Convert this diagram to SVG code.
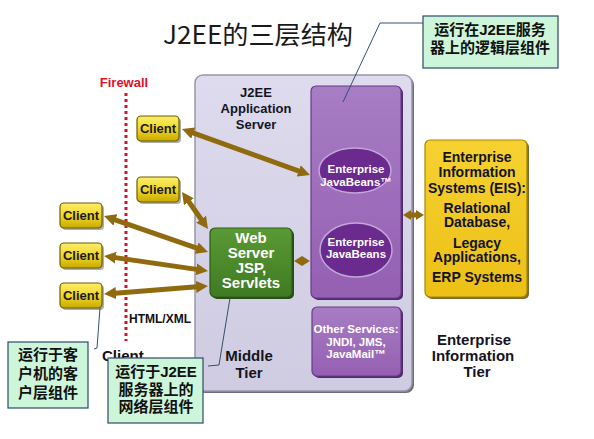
<svg xmlns="http://www.w3.org/2000/svg" width="594" height="439" viewBox="0 0 594 439">
<defs>
  <linearGradient id="gClient" x1="0" y1="0" x2="0" y2="1">
    <stop offset="0" stop-color="#fbee6a"/>
    <stop offset="0.5" stop-color="#efd82a"/>
    <stop offset="1" stop-color="#c9a900"/>
  </linearGradient>
  <linearGradient id="gServer" x1="0" y1="0" x2="0" y2="1">
    <stop offset="0" stop-color="#dedbee"/>
    <stop offset="1" stop-color="#cfcbe1"/>
  </linearGradient>
  <linearGradient id="gPurple" x1="0" y1="0" x2="0" y2="1">
    <stop offset="0" stop-color="#a77dc4"/>
    <stop offset="1" stop-color="#955fb2"/>
  </linearGradient>
  <linearGradient id="gGreen" x1="0" y1="0" x2="0" y2="1">
    <stop offset="0" stop-color="#5a9a34"/>
    <stop offset="1" stop-color="#3f7a22"/>
  </linearGradient>
  <linearGradient id="gEIS" x1="0" y1="0" x2="0" y2="1">
    <stop offset="0" stop-color="#f6d130"/>
    <stop offset="1" stop-color="#ecc016"/>
  </linearGradient>
  <marker id="ah" viewBox="0 0 12 12" refX="4" refY="6" markerWidth="12" markerHeight="12" markerUnits="userSpaceOnUse" orient="auto-start-reverse">
    <path d="M0,0 L12,6 L0,12 z" fill="#8f6a0e"/>
  </marker>
  <marker id="ahs" viewBox="0 0 8 10" refX="2" refY="5" markerWidth="8" markerHeight="10" markerUnits="userSpaceOnUse" orient="auto-start-reverse">
    <path d="M0,0 L8,5 L0,10 z" fill="#8f6a0e"/>
  </marker>
</defs>
<style>
  .sans { font-family: "Liberation Sans", Arial, sans-serif; }
  .cjk { font-family: "Liberation Sans", "Noto Sans CJK SC", sans-serif; font-weight: bold; font-size: 15px; fill: #111; text-anchor: middle; }
  .client rect.box { fill: url(#gClient); stroke: #6e5c00; stroke-width: 1.2; }
  .client rect.sh { fill: #6a6a6a; opacity: 0.55; }
  .client text { font-family: "Liberation Sans", Arial, sans-serif; font-weight: bold; font-size: 13px; fill: #1a1a10; text-anchor: middle; }
  .arrow { stroke: #8f6a0e; stroke-width: 5; fill: none; marker-start: url(#ah); marker-end: url(#ah); }
  .arrow.small { marker-start: url(#ahs); marker-end: url(#ahs); }
  .callout rect { fill: #cdf5d9; stroke: #2e4a66; stroke-width: 1.2; }
  .leader { stroke: #34506e; stroke-width: 1; fill: none; }
  .wt { font-family: "Liberation Sans", Arial, sans-serif; font-weight: bold; fill: #ffffff; text-anchor: middle; }
  .bt { font-family: "Liberation Sans", Arial, sans-serif; font-weight: bold; fill: #141420; text-anchor: middle; }
</style>
<rect width="594" height="439" fill="#ffffff"/>

<text x="163" y="44" font-family="'Noto Sans CJK SC', sans-serif" font-size="25" fill="#1a1a1a" textLength="190" lengthAdjust="spacingAndGlyphs">J2EE的三层结构</text>

<g id="firewall">
  <text x="124" y="87" class="sans" font-weight="bold" font-size="13" fill="#e0102a" text-anchor="middle">Firewall</text>
  <line x1="126" y1="93" x2="126" y2="341" stroke="#d8102a" stroke-width="3" stroke-dasharray="3,3"/>
  <text x="129" y="323" class="sans" font-weight="bold" font-size="12" fill="#111">HTML/XML</text>
</g>

<g id="app-server">
  <rect x="197" y="77" width="217" height="316" rx="8" fill="#6e6c7c"/>
  <rect x="195" y="75" width="217" height="316" rx="8" fill="url(#gServer)" stroke="#9896a8" stroke-width="1.5"/>
  <text class="bt" font-size="13"><tspan x="256" y="97">J2EE</tspan><tspan x="256" y="113">Application</tspan><tspan x="256" y="129">Server</tspan></text>
  <text class="bt" font-size="15"><tspan x="249" y="361">Middle</tspan><tspan x="249" y="378">Tier</tspan></text>
</g>

<g id="ejb-container">
  <rect x="313" y="88" width="90" height="212" rx="5" fill="#4e2a66"/>
  <rect x="311" y="86" width="90" height="212" rx="5" fill="url(#gPurple)" stroke="#6a3a8a" stroke-width="1.2"/>
</g>

<g id="ejb1">
  <ellipse cx="355" cy="170.5" rx="36" ry="22.5" fill="#6a2a8e" stroke="#c4a6dc" stroke-width="1.5"/>
  <text class="wt" font-size="11.5"><tspan x="356" y="173">Enterprise</tspan><tspan x="356" y="186">JavaBeans™</tspan></text>
</g>

<g id="ejb2">
  <ellipse cx="356" cy="250" rx="36" ry="27" fill="#6a2a8e" stroke="#c4a6dc" stroke-width="1.5"/>
  <text class="wt" font-size="11.5"><tspan x="356" y="246">Enterprise</tspan><tspan x="356" y="258">JavaBeans</tspan></text>
</g>

<g id="other-services">
  <rect x="314" y="309" width="89" height="69" rx="5" fill="#4e2a66"/>
  <rect x="312" y="307" width="89" height="69" rx="5" fill="url(#gPurple)" stroke="#6a3a8a" stroke-width="1.2"/>
  <text class="wt" font-size="11.5" fill="#f0e8f8"><tspan x="356" y="333">Other Services:</tspan><tspan x="356" y="346">JNDI, JMS,</tspan><tspan x="356" y="358">JavaMail™</tspan></text>
</g>

<g id="web-server">
  <rect x="212" y="230" width="82" height="69" rx="5" fill="#2a4a1a"/>
  <rect x="210" y="228" width="82" height="69" rx="5" fill="url(#gGreen)" stroke="#2c5c18" stroke-width="1.2"/>
  <text class="wt" font-size="15"><tspan x="251" y="243">Web</tspan><tspan x="251" y="258">Server</tspan><tspan x="251" y="273">JSP,</tspan><tspan x="251" y="288">Servlets</tspan></text>
</g>

<g id="eis">
  <rect x="427" y="142" width="102" height="157" rx="5" fill="#7a6a30"/>
  <rect x="425" y="140" width="102" height="157" rx="5" fill="url(#gEIS)" stroke="#a68800" stroke-width="1.2"/>
  <text class="bt" font-size="14" fill="#141008"><tspan x="477" y="162">Enterprise</tspan><tspan x="477" y="177">Information</tspan><tspan x="477" y="193">Systems (EIS):</tspan><tspan x="477" y="213">Relational</tspan><tspan x="477" y="227">Database,</tspan><tspan x="477" y="248">Legacy</tspan><tspan x="477" y="262">Applications,</tspan><tspan x="477" y="282">ERP Systems</tspan></text>
</g>

<g id="eis-tier">
  <text class="bt" font-size="15" fill="#111"><tspan x="474" y="345">Enterprise</tspan><tspan x="473" y="361">Information</tspan><tspan x="477" y="377">Tier</tspan></text>
</g>

<g id="client1" class="client"><rect class="sh" x="139" y="118" width="42" height="25" rx="4"/><rect class="box" x="137" y="116" width="42" height="25" rx="4"/><text x="158" y="133">Client</text></g>
<g id="client2" class="client"><rect class="sh" x="139" y="179" width="42" height="25" rx="4"/><rect class="box" x="137" y="177" width="42" height="25" rx="4"/><text x="158" y="194">Client</text></g>
<g id="client3" class="client"><rect class="sh" x="62" y="205" width="42" height="25" rx="4"/><rect class="box" x="60" y="203" width="42" height="25" rx="4"/><text x="81" y="220">Client</text></g>
<g id="client4" class="client"><rect class="sh" x="62" y="245" width="42" height="25" rx="4"/><rect class="box" x="60" y="243" width="42" height="25" rx="4"/><text x="81" y="260">Client</text></g>
<g id="client5" class="client"><rect class="sh" x="62" y="285" width="42" height="25" rx="4"/><rect class="box" x="60" y="283" width="42" height="25" rx="4"/><text x="81" y="300">Client</text></g>

<g id="client-tier">
  <text x="102" y="361" class="sans" font-weight="bold" font-size="15" fill="#111">Client</text>
</g>

<g id="connectors">
  <line class="arrow" x1="189.5" y1="131.7" x2="302.5" y2="172.3"/>
  <line class="arrow" x1="186.6" y1="198.5" x2="203.4" y2="222.5"/>
  <line class="arrow" x1="111.6" y1="218.6" x2="200.4" y2="249.4"/>
  <line class="arrow" x1="111.9" y1="257.1" x2="200.1" y2="269.9"/>
  <line class="arrow" x1="112" y1="293.4" x2="200" y2="286.6"/>
  <line class="arrow small" x1="300" y1="261" x2="304" y2="261"/>
  <line class="arrow small" x1="409" y1="215" x2="418" y2="215"/>
  <polyline class="leader" points="423,23 380,23 343,102"/>
  <polyline class="leader" points="100,308 97,348 94,349"/>
  <polyline class="leader" points="230,298 219,365 208,366"/>
</g>

<g id="callout-logic" class="callout">
  <rect x="423" y="16" width="135" height="52"/>
  <text class="cjk"><tspan x="490" y="35">运行在J2EE服务</tspan><tspan x="490" y="53">器上的逻辑层组件</tspan></text>
</g>

<g id="callout-client" class="callout">
  <rect x="8" y="342" width="80" height="66"/>
  <text class="cjk"><tspan x="48" y="360">运行于客</tspan><tspan x="48" y="379">户机的客</tspan><tspan x="48" y="398">户层组件</tspan></text>
</g>

<g id="callout-web" class="callout">
  <rect x="108" y="358" width="95" height="65"/>
  <text class="cjk"><tspan x="156" y="377">运行于J2EE</tspan><tspan x="156" y="395">服务器上的</tspan><tspan x="156" y="412">网络层组件</tspan></text>
</g>
</svg>
